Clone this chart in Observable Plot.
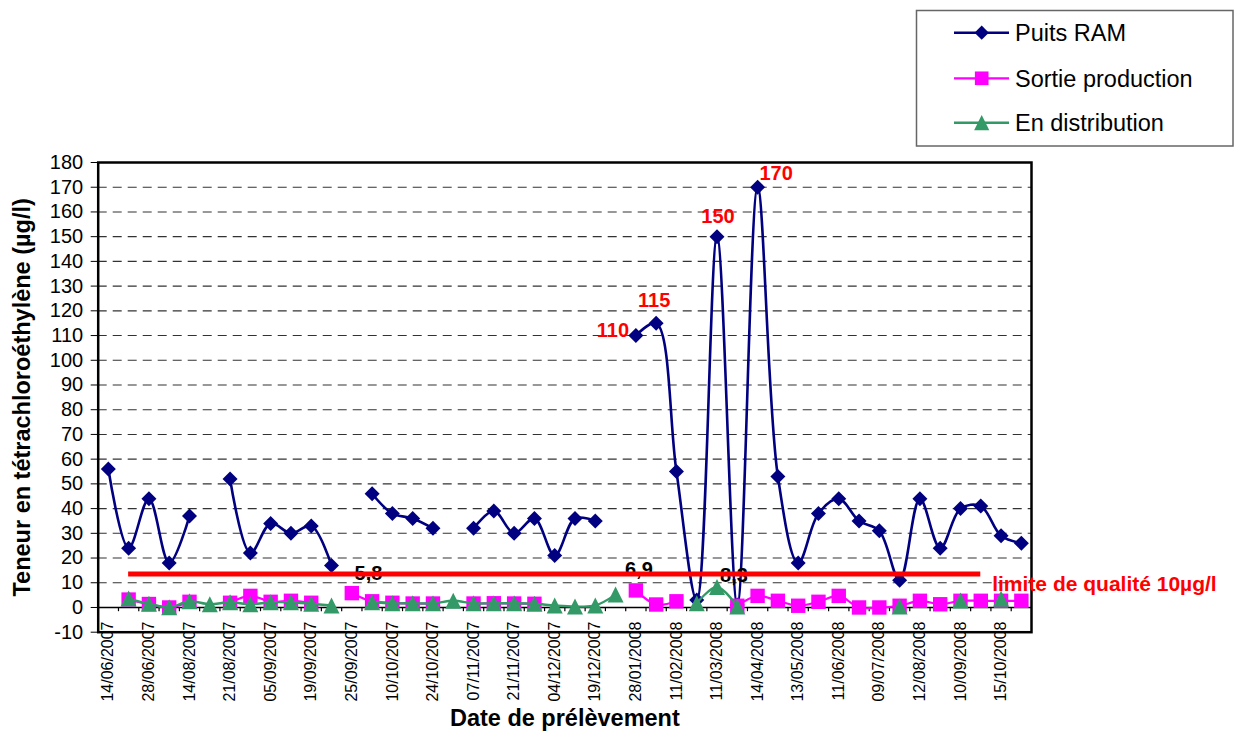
<!DOCTYPE html>
<html><head><meta charset="utf-8">
<script src="https://cdn.jsdelivr.net/npm/d3@7"></script>
<script src="https://cdn.jsdelivr.net/npm/@observablehq/plot@0.6"></script>
<style>
body{margin:0;background:#fff;font-family:"Liberation Sans",Arial,sans-serif;}
#wrap{width:1237px;height:731px;overflow:hidden;background:#fff;}
#legend,#chart{display:block;line-height:0;}
</style></head><body>
<div id="wrap"><div id="legend"></div><div id="chart"></div></div>
<script>
// ---- data ----
const tickLabels = ["14/06/2007","28/06/2007","14/08/2007","21/08/2007","05/09/2007","19/09/2007",
  "25/09/2007","10/10/2007","24/10/2007","07/11/2007","21/11/2007","04/12/2007","19/12/2007",
  "28/01/2008","11/02/2008","11/03/2008","14/04/2008","13/05/2008","11/06/2008","09/07/2008",
  "12/08/2008","10/09/2008","15/10/2008"];
const puitsRAM = [56,24,44,18,37,null,52,22,34,30,33,17,null,46,38,36,32,null,32,39,30,36,21,36,35,null,
  110,115,55,3,150,1,170,53,18,38,44,35,31,11,44,24,40,41,29,26];
const sortieProduction = [null,3.2,1.4,0,2.3,null,1.9,4.7,2.3,2.7,1.9,null,5.8,2.5,1.9,1.6,1.6,null,1.6,1.7,1.6,1.5,
  null,null,null,null,6.9,1.2,2.5,null,null,0.7,4.7,2.7,0.7,2.3,4.7,0,0,0.7,2.7,1.3,2.7,2.7,2.7,2.7];
const enDistribution = [null,3.6,1.5,0.1,2.5,1.3,2.1,1.3,2.1,2.1,1.5,0.8,null,2.1,1.7,1.7,1.7,2.7,1.7,1.7,1.7,1.5,
  0.8,0.4,0.8,5.2,null,null,null,1.7,8.3,0.4,null,null,null,null,null,null,null,0.4,null,null,2.8,null,3.5,null];
const seriesNames = ["Puits RAM","Sortie production","En distribution"];
const limiteLevel = 13.5;
const limiteFrom = 1, limiteTo = 43;
const limiteText = "limite de qualité 10µg/l";
const yTicks = d3.range(-10, 181, 10);
const gridTicks = d3.range(10, 171, 10);
const yTitle = "Teneur en tétrachloroéthylène (µg/l)";
const xTitle = "Date de prélèvement";

// ---- symbols ----
const diamond = {draw(c, s){const r=Math.sqrt(s/Math.PI);c.moveTo(0,-r);c.lineTo(r,0);c.lineTo(0,r);c.lineTo(-r,0);c.closePath();}};
const square = {draw(c, s){const r=Math.sqrt(s/Math.PI);c.moveTo(-r,-r);c.lineTo(r,-r);c.lineTo(r,r);c.lineTo(-r,r);c.closePath();}};
const triangle = {draw(c, s){const r=Math.sqrt(s/Math.PI);c.moveTo(0,-r);c.lineTo(r,r);c.lineTo(-r,r);c.closePath();}};

const series = [
  {name: seriesNames[0], values: puitsRAM, color: "#000080", width: 2.6, symbol: diamond, r: 7.5},
  {name: seriesNames[1], values: sortieProduction, color: "#FF00FF", width: 2.2, symbol: square, r: 7.2},
  {name: seriesNames[2], values: enDistribution, color: "#339966", width: 2.4, symbol: triangle, r: 8}
];
const idx = d3.range(puitsRAM.length);
const font = "'Liberation Sans', Arial, sans-serif";

// ---- legend ----
const leg = d3.select("#legend").append("svg").attr("width", 1237).attr("height", 150)
  .style("font-family", font).style("display","block");
leg.append("rect").attr("x", 916.5).attr("y", 10.5).attr("width", 316.5).attr("height", 135.5)
  .attr("fill", "#fff").attr("stroke", "#666").attr("stroke-width", 1.5);
const legY = [32.7, 78.3, 122.7];
series.forEach((s, k) => {
  const g = leg.append("g").attr("transform", `translate(0,${legY[k]})`);
  g.append("line").attr("x1", 954).attr("x2", 1009).attr("stroke", s.color).attr("stroke-width", s.width);
  g.append("path").attr("transform", "translate(981.7,0)")
    .attr("d", d3.symbol(s.symbol, Math.PI * s.r * s.r * 0.9)()).attr("fill", s.color);
  g.append("text").attr("x", 1015).attr("dy", "0.35em").attr("font-size", 23.5).attr("fill", "#000").text(s.name);
});

// ---- chart ----
const lab = (arr, i, fill, dx, dy) => Plot.text([i], {
  x: d => d, y: d => arr[d], text: d => String(arr[d]).replace(".", ","),
  fill, dx, dy, fontWeight: "bold", fontSize: 20, textAnchor: "middle", lineAnchor: "middle"
});

const marks = [
  Plot.ruleY(gridTicks, {stroke: "#333", strokeWidth: 1.1, strokeDasharray: "9,6"}),
  Plot.ruleY([0], {stroke: "#000", strokeWidth: 1.5}),
  Plot.ruleX(d3.range(0.5, 45, 1), {y1: 0, y2: -1.7, stroke: "#000", strokeWidth: 1.2}),
  Plot.axisY({ticks: yTicks, tickFormat: d => String(d), tickSize: 7, tickPadding: 8, fontSize: 20, label: null, stroke: "#000"}),
  Plot.axisX({ticks: d3.range(0, 46, 2), tickFormat: i => tickLabels[i / 2], tickRotate: -90, tickSize: 0,
    tickPadding: -10.7, fontSize: 16, label: null, textAnchor: "end"})
];
series.forEach(s => {
  marks.push(Plot.line(idx, {x: i => i, y: i => s.values[i], curve: "catmull-rom", stroke: s.color, strokeWidth: s.width}));
  marks.push(Plot.dot(idx.filter(i => s.values[i] != null), {x: i => i, y: i => s.values[i], symbol: s.symbol, r: s.r, fill: s.color, stroke: "none"}));
});
marks.push(
  lab(sortieProduction, 12, "#000", 16.7, -20),
  lab(sortieProduction, 26, "#000", 3, -21),
  lab(enDistribution, 30, "#000", 17, -11),
  lab(puitsRAM, 26, "#FF0000", -23, -5),
  lab(puitsRAM, 27, "#FF0000", -2, -23),
  lab(puitsRAM, 30, "#FF0000", 1, -20),
  lab(puitsRAM, 32, "#FF0000", 18.5, -14),
  Plot.ruleY([limiteLevel], {x1: limiteFrom, x2: limiteTo, stroke: "#FF0000", strokeWidth: 5}),
  Plot.frame({stroke: "#000", strokeWidth: 2.5}),
  Plot.text([limiteText], {text: d => d, frameAnchor: "bottom-right", dx: -39.3, dy: -47.7, textAnchor: "start",
    lineAnchor: "middle", fill: "#FF0000", fontWeight: "bold", fontSize: 21}),
  Plot.text([yTitle], {text: d => d, frameAnchor: "left", dx: -75.7, rotate: -90, textAnchor: "middle",
    lineAnchor: "middle", fontWeight: "bold", fontSize: 23.5}),
  Plot.text([xTitle], {text: d => d, frameAnchor: "bottom", dy: 86, textAnchor: "middle",
    lineAnchor: "middle", fontWeight: "bold", fontSize: 23.5})
);

const chart = Plot.plot({
  width: 1237, height: 581,
  marginTop: 12, marginBottom: 99.3, marginLeft: 97.7, marginRight: 206,
  x: {domain: [-0.5, 45.5]},
  y: {domain: [-10, 180]},
  style: {fontFamily: font, background: "#fff", color: "#000", overflow: "visible"},
  marks
});
document.getElementById("chart").appendChild(chart);
</script>
</body></html>
